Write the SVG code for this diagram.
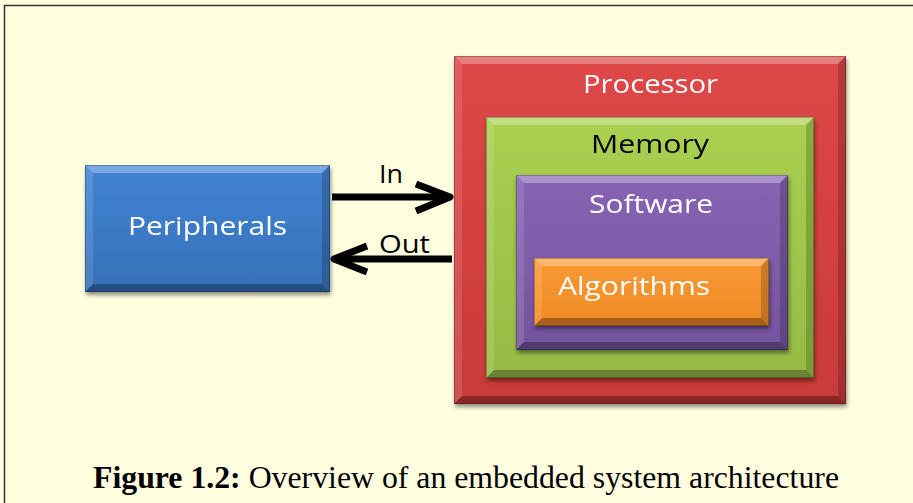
<svg xmlns="http://www.w3.org/2000/svg" width="913" height="503" viewBox="0 0 913 503">
<defs>
<linearGradient id="gRed" x1="0" y1="0" x2="0" y2="1"><stop offset="0" stop-color="#DE4747"/><stop offset="1" stop-color="#C93A3A"/></linearGradient>
<linearGradient id="gGreen" x1="0" y1="0" x2="0" y2="1"><stop offset="0" stop-color="#A9D050"/><stop offset="1" stop-color="#95BB45"/></linearGradient>
<linearGradient id="gPurple" x1="0" y1="0" x2="0" y2="1"><stop offset="0" stop-color="#8864B4"/><stop offset="1" stop-color="#74549E"/></linearGradient>
<linearGradient id="gOrange" x1="0" y1="0" x2="0" y2="1"><stop offset="0" stop-color="#F99A35"/><stop offset="1" stop-color="#EE8A25"/></linearGradient>
<linearGradient id="gBlue" x1="0" y1="0" x2="0" y2="1"><stop offset="0" stop-color="#4184D4"/><stop offset="1" stop-color="#3670B8"/></linearGradient>
<filter id="sh" x="-10%" y="-10%" width="125%" height="125%"><feGaussianBlur in="SourceAlpha" stdDeviation="2"/><feOffset dx="1" dy="3"/><feComponentTransfer><feFuncA type="linear" slope="0.45"/></feComponentTransfer><feMerge><feMergeNode/><feMergeNode in="SourceGraphic"/></feMerge></filter>
</defs>
<style>
.lbl{font-family:"Open Sans","Noto Sans",sans-serif;font-size:25px}
.w{fill:#FFFFFF}
.k{fill:#000000}
.hl{fill:#FFFFFF;fill-opacity:0.3}
.lt{fill:#FFFFFF;fill-opacity:0.12}
.dk{fill:#000000;fill-opacity:0.18}
.dd{fill:#000000;fill-opacity:0.3}
.edge{fill:none;stroke:#000;stroke-opacity:0.25;stroke-width:1}
.conn{fill:none;stroke:#000;stroke-width:7;stroke-linecap:butt;stroke-linejoin:round}
.cap{font-family:"Liberation Serif","Times New Roman",serif;font-size:32px;fill:#000}
</style>
<rect x="0" y="0" width="913" height="503" fill="#FFFFE0"/>
<rect x="4.5" y="5.5" width="930" height="530" fill="#FFFFE0" stroke="#333" stroke-width="1.5"/>

<g id="processor" filter="url(#sh)">
<rect x="454" y="56" width="392" height="348" fill="url(#gRed)"/>
<polygon class="hl" points="454,56 846,56 838,64 462,64"/>
<polygon class="lt" points="454,56 462,64 462,396 454,404"/>
<polygon class="dk" points="846,56 846,404 838,396 838,64"/>
<polygon class="dd" points="454,404 846,404 838,396 462,396"/>
<rect class="edge" x="454.5" y="56.5" width="391" height="347"/>
<text class="lbl w" x="583" y="93" textLength="135" lengthAdjust="spacingAndGlyphs">Processor</text>
</g>

<g id="memory" filter="url(#sh)">
<rect x="486" y="117" width="328" height="261" fill="url(#gGreen)"/>
<polygon class="hl" points="486,117 814,117 806,125 494,125"/>
<polygon class="lt" points="486,117 494,125 494,370 486,378"/>
<polygon class="dk" points="814,117 814,378 806,370 806,125"/>
<polygon class="dd" points="486,378 814,378 806,370 494,370"/>
<rect class="edge" x="486.5" y="117.5" width="327" height="260"/>
<text class="lbl k" x="591" y="153" textLength="118" lengthAdjust="spacingAndGlyphs">Memory</text>
</g>

<g id="software" filter="url(#sh)">
<rect x="516" y="175" width="272" height="175" fill="url(#gPurple)"/>
<polygon class="hl" points="516,175 788,175 780,183 524,183"/>
<polygon class="lt" points="516,175 524,183 524,342 516,350"/>
<polygon class="dk" points="788,175 788,350 780,342 780,183"/>
<polygon class="dd" points="516,350 788,350 780,342 524,342"/>
<rect class="edge" x="516.5" y="175.5" width="271" height="174"/>
<text class="lbl w" x="589" y="213" textLength="124" lengthAdjust="spacingAndGlyphs">Software</text>
</g>

<g id="algorithms" filter="url(#sh)">
<rect x="534" y="258" width="235" height="68" fill="url(#gOrange)"/>
<polygon class="hl" points="534,258 769,258 761,266 542,266"/>
<polygon class="lt" points="534,258 542,266 542,318 534,326"/>
<polygon class="dk" points="769,258 769,326 761,318 761,266"/>
<polygon class="dd" points="534,326 769,326 761,318 542,318"/>
<rect class="edge" x="534.5" y="258.5" width="234" height="67"/>
<text class="lbl w" x="558" y="295" textLength="152" lengthAdjust="spacingAndGlyphs">Algorithms</text>
</g>

<g id="peripherals" filter="url(#sh)">
<rect x="85" y="165" width="245" height="127" fill="url(#gBlue)"/>
<polygon class="hl" points="85,165 330,165 322,173 93,173"/>
<polygon class="lt" points="85,165 93,173 93,284 85,292"/>
<polygon class="dk" points="330,165 330,292 322,284 322,173"/>
<polygon class="dd" points="85,292 330,292 322,284 93,284"/>
<rect class="edge" x="85.5" y="165.5" width="244" height="126"/>
<text class="lbl w" x="128" y="235" textLength="159" lengthAdjust="spacingAndGlyphs">Peripherals</text>
</g>

<g id="connectors">
<path class="conn" d="M332,197 H450"/>
<path class="conn" d="M416,184 L450,197 L416,211" stroke-linecap="round"/>
<path class="conn" d="M452,259 H334"/>
<path class="conn" d="M367,246 L334,259 L367,272" stroke-linecap="round"/>
<text class="lbl k" x="379" y="183" textLength="24" lengthAdjust="spacingAndGlyphs">In</text>
<text class="lbl k" x="379" y="253" textLength="51" lengthAdjust="spacingAndGlyphs">Out</text>
</g>

<text class="cap" x="93" y="488" textLength="746" lengthAdjust="spacingAndGlyphs"><tspan font-weight="bold">Figure 1.2:</tspan> Overview of an embedded system architecture</text>
</svg>
